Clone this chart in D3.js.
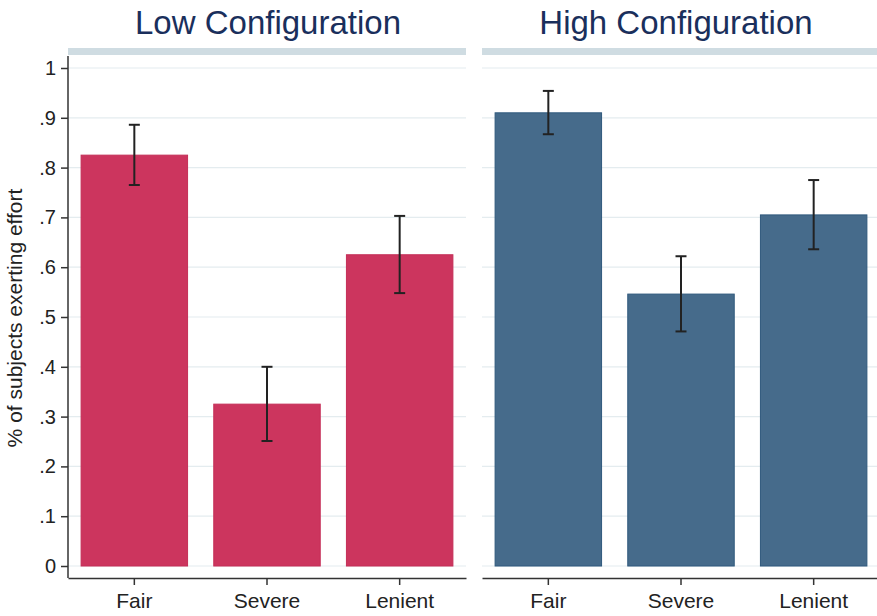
<!DOCTYPE html>
<html>
<head>
<meta charset="utf-8">
<script src="https://cdn.jsdelivr.net/npm/d3@7"></script>
<style>
    body { margin: 0; background: #fff; }
    text { font-family: "Liberation Sans", Arial, sans-serif; }
</style>
</head>
<body>
<svg id="chart" width="877" height="616"></svg>
<script>
// data
const categories = ["Fair", "Severe", "Lenient"];
const panels = ["Low Configuration", "High Configuration"];
const lowValues = [0.825, 0.325, 0.625];
const lowLower = [0.765, 0.251, 0.548];
const lowUpper = [0.886, 0.400, 0.703];
const highValues = [0.910, 0.546, 0.705];
const highLower = [0.867, 0.471, 0.636];
const highUpper = [0.954, 0.622, 0.775];
const yTicks = [0, 0.1, 0.2, 0.3, 0.4, 0.5, 0.6, 0.7, 0.8, 0.9, 1];
const yTickLabels = ["0", ".1", ".2", ".3", ".4", ".5", ".6", ".7", ".8", ".9", "1"];

const panelData = [
    {title: panels[0], values: lowValues, lo: lowLower, hi: lowUpper, color: "#cc355e", stroke: "#c42e57", x0: 68, x1: 466, titleX: 268, yAxis: true},
    {title: panels[1], values: highValues, lo: highLower, hi: highUpper, color: "#466b8b", stroke: "#2f587c", x0: 482, x1: 880, titleX: 676, yAxis: false}
];

const svg = d3.select("#chart");

const y = d3.scaleLinear()
    .domain([0, 1])
    .range([566, 68]);

const stripTop = 48, stripH = 7, axisY = 578;

panelData.forEach(p => {
    const x = d3.scaleBand()
        .domain(categories)
        .range([p.x0, p.x1])
        .paddingInner(0.19)
        .paddingOuter(0.095);

    const g = svg.append("g");

    // title
    g.append("text")
        .attr("x", p.titleX)
        .attr("y", 34)
        .attr("text-anchor", "middle")
        .style("font-size", "33px")
        .style("fill", "#1a2f5c")
        .text(p.title);

    // strip
    g.append("rect")
        .attr("x", p.x0)
        .attr("y", stripTop)
        .attr("width", p.x1 - p.x0)
        .attr("height", stripH)
        .attr("fill", "#cfdce2");

    // gridlines
    g.selectAll(".grid")
        .data(yTicks)
        .enter().append("line")
        .attr("x1", p.x0)
        .attr("x2", p.x1)
        .attr("y1", d => y(d))
        .attr("y2", d => y(d))
        .attr("stroke", "#e4ecef")
        .attr("stroke-width", 1.2);

    // bars
    g.selectAll(".bar")
        .data(p.values)
        .enter().append("rect")
        .attr("x", (d, i) => x(categories[i]) + 0.5)
        .attr("width", x.bandwidth() - 1)
        .attr("y", d => y(d))
        .attr("height", d => y(0) - y(d))
        .attr("fill", p.color)
        .attr("stroke", p.stroke)
        .attr("stroke-width", 1);

    // error bars
    const eb = g.selectAll(".err")
        .data(p.values.map((v, i) => ({c: categories[i], lo: p.lo[i], hi: p.hi[i]})))
        .enter().append("g")
        .attr("stroke", "#222")
        .attr("stroke-width", 2);
    eb.append("line")
        .attr("x1", d => x(d.c) + x.bandwidth() / 2)
        .attr("x2", d => x(d.c) + x.bandwidth() / 2)
        .attr("y1", d => y(d.lo))
        .attr("y2", d => y(d.hi));
    eb.append("line")
        .attr("x1", d => x(d.c) + x.bandwidth() / 2 - 5.5)
        .attr("x2", d => x(d.c) + x.bandwidth() / 2 + 5.5)
        .attr("y1", d => y(d.lo))
        .attr("y2", d => y(d.lo));
    eb.append("line")
        .attr("x1", d => x(d.c) + x.bandwidth() / 2 - 5.5)
        .attr("x2", d => x(d.c) + x.bandwidth() / 2 + 5.5)
        .attr("y1", d => y(d.hi))
        .attr("y2", d => y(d.hi));

    // x axis
    const xAxis = g.append("g")
        .attr("transform", `translate(0,${axisY})`)
        .call(d3.axisBottom(x).tickSize(7).tickPadding(8).tickSizeOuter(0));
    xAxis.select(".domain").attr("stroke", "#333").attr("stroke-width", 1.5);
    xAxis.selectAll(".tick line").attr("stroke", "#333").attr("stroke-width", 1.5);
    xAxis.selectAll(".tick text")
        .style("font-size", "21px")
        .style("fill", "#222")
        .style("font-family", "'Liberation Sans', Arial, sans-serif");

    // y axis
    if (p.yAxis) {
        const yAxis = g.append("g")
            .attr("transform", `translate(${p.x0},0)`)
            .call(d3.axisLeft(y).tickValues(yTicks)
                .tickFormat((d, i) => yTickLabels[i])
                .tickSize(7).tickPadding(5).tickSizeOuter(0));
        yAxis.select(".domain")
            .attr("d", `M0,${stripTop + stripH + 1}V${axisY}`)
            .attr("stroke", "#333").attr("stroke-width", 1.5);
        yAxis.selectAll(".tick line").attr("stroke", "#333").attr("stroke-width", 1.5);
        yAxis.selectAll(".tick text")
            .style("font-size", "20px")
            .style("fill", "#222")
            .style("font-family", "'Liberation Sans', Arial, sans-serif");
    }
});

// y axis title
svg.append("text")
    .attr("transform", "translate(22,318) rotate(-90)")
    .attr("text-anchor", "middle")
    .style("font-size", "21px")
    .style("fill", "#222")
    .text("% of subjects exerting effort");
</script>
</body>
</html>
